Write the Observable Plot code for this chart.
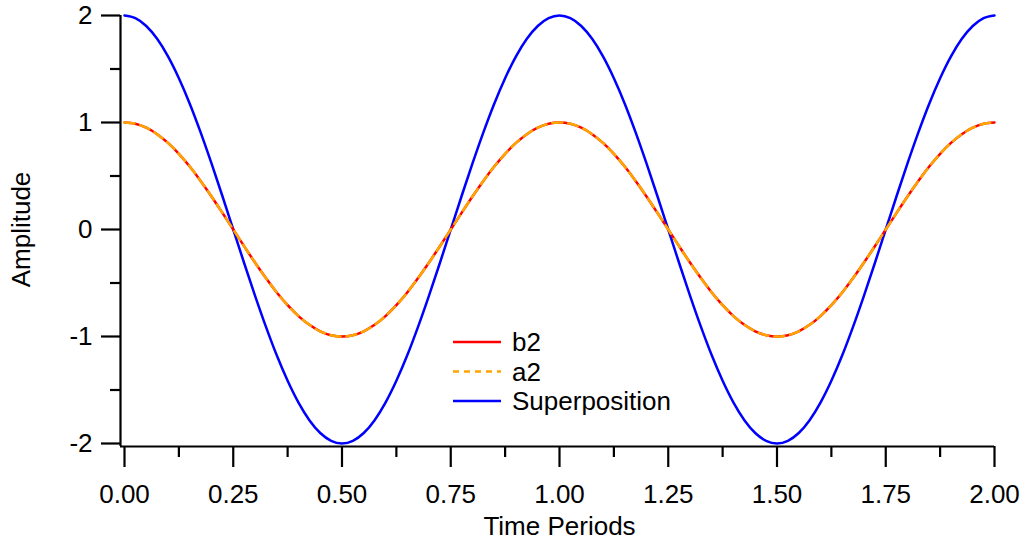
<!DOCTYPE html>
<html>
<head>
<meta charset="utf-8">
<script src="https://cdn.jsdelivr.net/npm/d3@7"></script>
<script src="https://cdn.jsdelivr.net/npm/@observablehq/plot@0.6"></script>
<style>
  html, body { margin: 0; padding: 0; background: #fff; }
  #wrap { position: relative; width: 1028px; height: 541px; font-family: "Liberation Sans", Arial, sans-serif; }
  #legend { position: absolute; left: 450px; top: 326px; }
</style>
</head>
<body>
<div id="wrap"></div>
<script>
// Time axis samples (Time Periods)
const time = [0,0.025,0.05,0.075,0.1,0.125,0.15,0.175,0.2,0.225,0.25,0.275,0.3,0.325,0.35,0.375,0.4,0.425,0.45,0.475,
              0.5,0.525,0.55,0.575,0.6,0.625,0.65,0.675,0.7,0.725,0.75,0.775,0.8,0.825,0.85,0.875,0.9,0.925,0.95,0.975,
              1,1.025,1.05,1.075,1.1,1.125,1.15,1.175,1.2,1.225,1.25,1.275,1.3,1.325,1.35,1.375,1.4,1.425,1.45,1.475,
              1.5,1.525,1.55,1.575,1.6,1.625,1.65,1.675,1.7,1.725,1.75,1.775,1.8,1.825,1.85,1.875,1.9,1.925,1.95,1.975,2];
// Series values
const b2 = [1,0.988,0.951,0.891,0.809,0.707,0.588,0.454,0.309,0.156,0,-0.156,-0.309,-0.454,-0.588,-0.707,-0.809,-0.891,-0.951,-0.988,
            -1,-0.988,-0.951,-0.891,-0.809,-0.707,-0.588,-0.454,-0.309,-0.156,0,0.156,0.309,0.454,0.588,0.707,0.809,0.891,0.951,0.988,
            1,0.988,0.951,0.891,0.809,0.707,0.588,0.454,0.309,0.156,0,-0.156,-0.309,-0.454,-0.588,-0.707,-0.809,-0.891,-0.951,-0.988,
            -1,-0.988,-0.951,-0.891,-0.809,-0.707,-0.588,-0.454,-0.309,-0.156,0,0.156,0.309,0.454,0.588,0.707,0.809,0.891,0.951,0.988,1];
const a2 = [1,0.988,0.951,0.891,0.809,0.707,0.588,0.454,0.309,0.156,0,-0.156,-0.309,-0.454,-0.588,-0.707,-0.809,-0.891,-0.951,-0.988,
            -1,-0.988,-0.951,-0.891,-0.809,-0.707,-0.588,-0.454,-0.309,-0.156,0,0.156,0.309,0.454,0.588,0.707,0.809,0.891,0.951,0.988,
            1,0.988,0.951,0.891,0.809,0.707,0.588,0.454,0.309,0.156,0,-0.156,-0.309,-0.454,-0.588,-0.707,-0.809,-0.891,-0.951,-0.988,
            -1,-0.988,-0.951,-0.891,-0.809,-0.707,-0.588,-0.454,-0.309,-0.156,0,0.156,0.309,0.454,0.588,0.707,0.809,0.891,0.951,0.988,1];
const superposition = [2,1.975,1.902,1.782,1.618,1.414,1.176,0.908,0.618,0.313,0,-0.313,-0.618,-0.908,-1.176,-1.414,-1.618,-1.782,-1.902,-1.975,
            -2,-1.975,-1.902,-1.782,-1.618,-1.414,-1.176,-0.908,-0.618,-0.313,0,0.313,0.618,0.908,1.176,1.414,1.618,1.782,1.902,1.975,
            2,1.975,1.902,1.782,1.618,1.414,1.176,0.908,0.618,0.313,0,-0.313,-0.618,-0.908,-1.176,-1.414,-1.618,-1.782,-1.902,-1.975,
            -2,-1.975,-1.902,-1.782,-1.618,-1.414,-1.176,-0.908,-0.618,-0.313,0,0.313,0.618,0.908,1.176,1.414,1.618,1.782,1.902,1.975,2];

const xMajor = [0,0.25,0.5,0.75,1,1.25,1.5,1.75,2];
const xMinor = [0.125,0.375,0.625,0.875,1.125,1.375,1.625,1.875];
const yMajor = [-2,-1,0,1,2];
const yMinor = [-1.5,-0.5,0.5,1.5];

const seriesNames = ["b2","a2","Superposition"];
const seriesColors = ["#ff0000","#ffa500","#0000ff"];
const legendDash = [null,"6,5",null];

const rows = time.map((t,i) => ({t, b2: b2[i], a2: a2[i], sup: superposition[i]}));

const font = "Liberation Sans, Arial, sans-serif";
const fs = 26;

const chart = Plot.plot({
  width: 1028,
  height: 541,
  marginLeft: 124,
  marginRight: 34,
  marginTop: 15,
  marginBottom: 98,
  style: {fontFamily: font, fontSize: fs + "px", background: "#fff", color: "#000"},
  x: {domain: [0, 2]},
  y: {domain: [-2, 2]},
  marks: [
    Plot.ruleX([0], {dx: -4, insetBottom: -3, stroke: "#000", strokeWidth: 2.2}),
    Plot.ruleY([-2], {dy: 3, insetLeft: -4, stroke: "#000", strokeWidth: 2.2}),
    Plot.axisY({ticks: yMajor, tickSize: 19, dx: -4, tickPadding: 9, tickFormat: d => String(d), strokeWidth: 2.2, fontSize: fs, label: null}),
    Plot.axisY({ticks: yMinor, tickSize: 10, dx: -4, tickFormat: () => "", strokeWidth: 2.2, label: null}),
    Plot.axisX({ticks: xMajor, tickSize: 21, dy: 3, tickPadding: 17, tickFormat: d3.format(".2f"), strokeWidth: 2.2, fontSize: fs, label: null}),
    Plot.axisX({ticks: xMinor, tickSize: 11, dy: 3, tickFormat: () => "", strokeWidth: 2.2, label: null}),
    Plot.text(["Amplitude"], {text: d => d, frameAnchor: "left", textAnchor: "middle", dx: -103, rotate: -90, fontSize: fs}),
    Plot.text(["Time Periods"], {text: d => d, frameAnchor: "bottom", dy: 91, fontSize: fs}),
    Plot.line(rows, {x: "t", y: "sup", stroke: seriesColors[2], strokeWidth: 2.5, curve: "monotone-x"}),
    Plot.line(rows, {x: "t", y: "b2", stroke: seriesColors[0], strokeWidth: 2.5, curve: "monotone-x"}),
    Plot.line(rows, {x: "t", y: "a2", stroke: seriesColors[1], strokeWidth: 2.5, strokeDasharray: "10,6", curve: "monotone-x"})
  ]
});
document.getElementById("wrap").appendChild(chart);

// Legend
const lg = d3.select("#wrap").append("svg").attr("id","legend").attr("width", 260).attr("height", 90);
seriesNames.forEach((name, i) => {
  const y = 16 + i * 29.5;
  lg.append("line").attr("x1", 3).attr("x2", 51).attr("y1", y).attr("y2", y)
    .attr("stroke", seriesColors[i]).attr("stroke-width", 2.5)
    .attr("stroke-dasharray", legendDash[i]);
  lg.append("text").attr("x", 62).attr("y", y).attr("dy", "0.35em")
    .attr("font-family", font).attr("font-size", fs).text(name);
});
</script>
</body>
</html>
